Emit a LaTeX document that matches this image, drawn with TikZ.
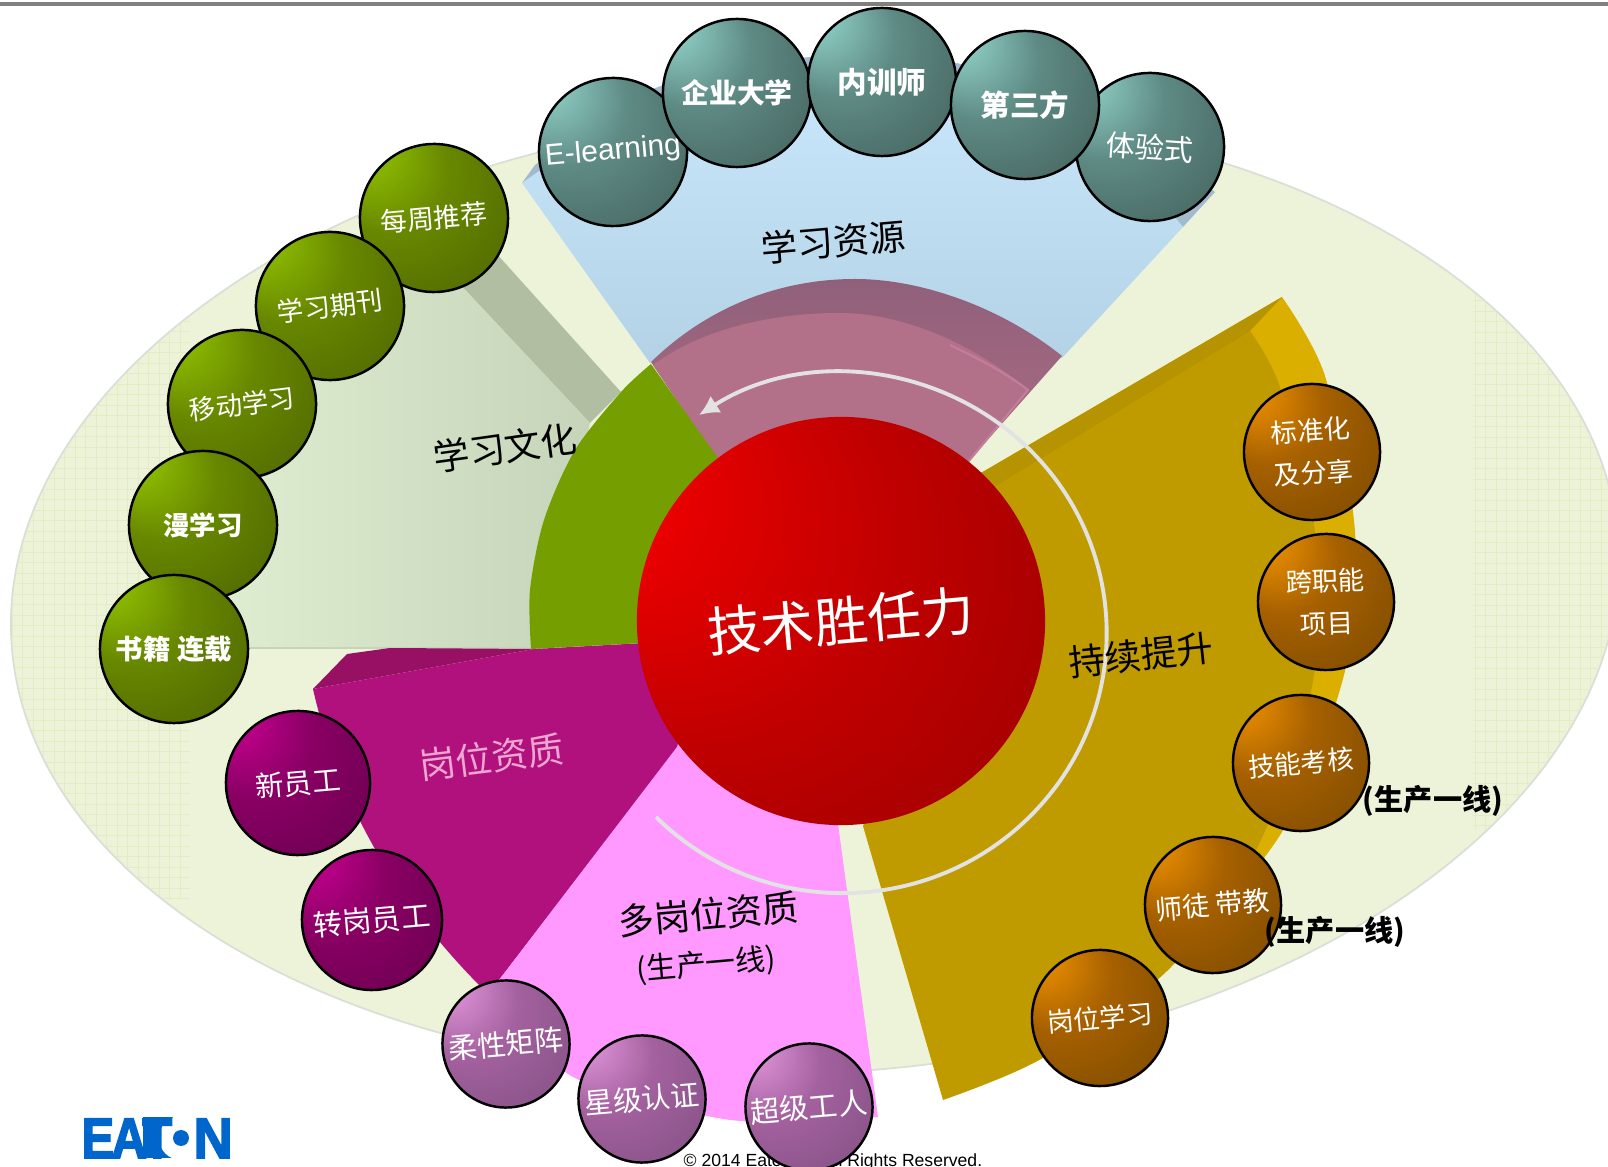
\documentclass[tikz,border=0pt]{standalone}
\usepackage{fontspec}
\usepackage{xcolor}
\usepackage{tikz}
\usetikzlibrary{arrows.meta}
\setmainfont{Liberation Sans}
\newfontfamily\cjk{Noto Sans CJK SC}
\newfontfamily\logofont[FakeBold=3]{Liberation Sans Bold}
\definecolor{barbg}{HTML}{808080}
\definecolor{plate}{HTML}{EDF3D9}
\definecolor{plategrid}{HTML}{E3ECC2}
\definecolor{plateedge}{HTML}{DADFD6}
\definecolor{bluehi}{HTML}{C9E8FD}
\definecolor{bluelo}{HTML}{B4D2E5}
\definecolor{blueback}{HTML}{A3B9CE}
\definecolor{mauvedark}{HTML}{90607A}
\definecolor{mauvemid}{HTML}{AC6C84}
\definecolor{mauve}{HTML}{B27188}
\definecolor{mauveedge}{HTML}{C27E9A}
\definecolor{sagehi}{HTML}{E0EFD2}
\definecolor{sagelo}{HTML}{C6D4B9}
\definecolor{sageback}{HTML}{B1BEA2}
\definecolor{olive}{HTML}{759E00}
\definecolor{plum}{HTML}{B0117C}
\definecolor{plumdark}{HTML}{971064}
\definecolor{orchid}{HTML}{FF99FF}
\definecolor{gold}{HTML}{C09B00}
\definecolor{golddark}{HTML}{B69300}
\definecolor{goldhi}{HTML}{DAAF00}
\definecolor{ring}{HTML}{E2E2E2}
\definecolor{eaton}{HTML}{0066CC}
\definecolor{plumtext}{HTML}{EDA6D2}
\definecolor{redhi}{HTML}{FF0000}
\definecolor{redmid}{HTML}{C00000}
\definecolor{redlo}{HTML}{8C0000}
\definecolor{tealhi}{HTML}{9CE3D8}
\definecolor{tealmid}{HTML}{5F8B85}
\definecolor{teallo}{HTML}{3A524E}
\definecolor{greenhi}{HTML}{9BD000}
\definecolor{greenmid}{HTML}{688800}
\definecolor{greenlo}{HTML}{445800}
\definecolor{plumhi}{HTML}{D6009C}
\definecolor{plummid}{HTML}{8A0064}
\definecolor{plumlo}{HTML}{5C0046}
\definecolor{violethi}{HTML}{F0A2EA}
\definecolor{violetmid}{HTML}{A4619F}
\definecolor{violetlo}{HTML}{744A78}
\definecolor{amberhi}{HTML}{FF9C00}
\definecolor{ambermid}{HTML}{A66000}
\definecolor{amberlo}{HTML}{6C4200}
\pgfdeclareradialshading{redshade}{\pgfpoint{-34bp}{18bp}}{color(0bp)=(redhi); color(24bp)=(redmid); color(50bp)=(redlo)}
\pgfdeclareradialshading{tealball}{\pgfpoint{-26bp}{26bp}}{color(0bp)=(tealhi); color(20bp)=(tealmid); color(50bp)=(teallo)}
\pgfdeclareradialshading{greenball}{\pgfpoint{-26bp}{26bp}}{color(0bp)=(greenhi); color(20bp)=(greenmid); color(50bp)=(greenlo)}
\pgfdeclareradialshading{plumball}{\pgfpoint{-26bp}{26bp}}{color(0bp)=(plumhi); color(20bp)=(plummid); color(50bp)=(plumlo)}
\pgfdeclareradialshading{violetball}{\pgfpoint{-26bp}{26bp}}{color(0bp)=(violethi); color(20bp)=(violetmid); color(50bp)=(violetlo)}
\pgfdeclareradialshading{amberball}{\pgfpoint{-26bp}{26bp}}{color(0bp)=(amberhi); color(20bp)=(ambermid); color(50bp)=(amberlo)}
\tikzset{
  ball/.style={circle, draw=black, line width=0.7pt, inner sep=0pt, shade, text=white, align=center},
  teal/.style={ball, shading=tealball, minimum size=14.8mm},
  grn/.style={ball, shading=greenball, minimum size=14.8mm},
  plm/.style={ball, shading=plumball, minimum size=14.4mm},
  vio/.style={ball, shading=violetball, minimum size=12.7mm},
  amb/.style={ball, shading=amberball, minimum size=13.6mm},
  cj/.style={font=\cjk\fontsize{#1}{12}\selectfont},
  cjb/.style={font=\cjk\bfseries\fontsize{#1}{12}\selectfont},
  lab/.style={text=black, cj=10.3},
  labb/.style={text=black, cjb=8.3},
  logo/.style={text=eaton, inner sep=0pt, font=\logofont\fontsize{16.2}{16.2}\selectfont}
}
\begin{document}
\begin{tikzpicture}[x=0.01cm,y=-0.01cm]
  \useasboundingbox (0,0) rectangle (1608,1167);
  \clip (0,0) rectangle (1608,1167);
  \fill[barbg] (0,2) rectangle (1608,6);
  \coordinate (C) at (815,593);
  \draw[plateedge, fill=plate, line width=0.5pt, rotate around={3.5:(C)}] (C) ellipse [x radius=805, y radius=480];
  % faint lattice on both ends of the plate
  \begin{scope}
    \clip[rotate around={3.5:(C)}] (C) ellipse [x radius=804, y radius=479];
    \foreach \x in {12,22.5,...,190} \draw[plategrid, line width=0.25pt] (\x,300) -- (\x,900);
    \foreach \x in {1475,1485.5,...,1608} \draw[plategrid, line width=0.25pt] (\x,290) -- (\x,830);
    \foreach \y in {300,310.5,...,900} \draw[plategrid, line width=0.25pt] (10,\y) -- (190,\y);
    \foreach \y in {290,300.5,...,830} \draw[plategrid, line width=0.25pt] (1473,\y) -- (1608,\y);
  \end{scope}
  % study resources
  \fill[blueback] (522,183) -- plot[smooth] coordinates {(535,165) (650,90) (810,57) (956,63) (1100,110) (1215,192)} -- (1183,227) -- cycle;
  \shade[top color=bluehi, bottom color=bluelo] (650,363) -- (522,183) -- plot[smooth] coordinates {(522,183) (650,105) (810,70) (956,76) (1090,130) (1183,227)} -- (1062,358) -- cycle;
  \shade[top color=mauvedark, bottom color=mauvemid] (651,362) .. controls (715,300) and (790,279) .. (855,279) .. controls (925,279) and (1005,310) .. (1062,356) -- (968,462) -- (716,458) -- cycle;
  \fill[mauve] (653,365) .. controls (700,330) and (770,313) .. (839,313) .. controls (905,313) and (975,345) .. (1028,390) -- (968,462) -- (716,458) -- cycle;
  \draw[mauveedge, line width=0.6pt] (950,345) .. controls (975,357) and (1005,372) .. (1028,390) -- (968,462);
  % study culture
  \fill[sageback] (460,213) -- (621,392) -- (590,423) -- (440,263) -- cycle;
  \shade[left color=sagehi, right color=sagelo] (440,263) -- (590,423) -- (545,648) -- (200,648) -- (210,530) -- (250,420) -- (330,320) -- cycle;
  \draw[sagelo, line width=0.3pt] (230,648) -- (545,648);
  % job qualification
  \fill[plumdark] (313,689) -- (347,654) -- (390,648) -- (534,649) -- cycle;
  \fill[plum] (313,689) -- (534,649) -- (700,640) -- (677,748) -- (499,980) -- (479,985) .. controls (420,925) and (345,830) .. (313,689) -- cycle;
  \fill[orchid] (690,730) -- (499,980) -- plot[smooth] coordinates {(499,980) (568,1074) (712,1117) (800,1122) (878,1117)} -- (832,780) -- cycle;
  % continuous improvement
  \fill[goldhi] (1282,297) -- plot[smooth] coordinates {(1282,297) (1325,376) (1355,532) (1345,671) (1282,832) (1167,971)} -- (981,473) -- cycle;
  \fill[gold] (981,473) -- (1250,331) -- plot[smooth] coordinates {(1250,331) (1280,387) (1315,532) (1312,687) (1257,848) (1167,971) (1041,1059) (943,1100)} -- (863,826) -- cycle;
  \fill[golddark] (981,473) -- (1282,297) -- (1250,331) -- (996,486) -- cycle;
  \fill[olive] plot[smooth] coordinates {(651,364) (621,392) (575,450) (544,520) (530,590) (531,649)} -- (700,640) -- (718,458) -- cycle;
  \coordinate (R) at (843,633);
  \draw[ring, line width=1.1pt, -{Latex[length=2mm,width=2mm]}] (656,817) arc [start angle=-225, end angle=-483, x radius=264, y radius=260];
  \node[circle, shade, shading=redshade, minimum size=40.8mm, inner sep=0pt, text=white, cj=15.2, rotate=5] (core) at (841,621) {技术胜任力};
  \node[anchor=base west, inner sep=0pt, font=\fontsize{5.0}{6}\selectfont] (rights) at (683,1166) {© 2014 Eaton.\hspace{2mm} All Rights Reserved.};
  \node[teal, rotate=5, font=\fontsize{8.5}{10}\selectfont] (elearn) at (613,152) {E-learning};
  \node[teal, rotate=-4, cj=8.3] (tiyan) at (1150,147) {体验式};
  \node[teal, cjb=7.9] (daxue) at (737,93) {企业大学};
  \node[teal, cjb=8.4] (neixun) at (882,82) {内训师};
  \node[teal, cjb=8.4] (disan) at (1025,105) {第三方};
  \node[grn, rotate=5, cj=7.6] (meizhou) at (434,218) {每周推荐};
  \node[grn, rotate=7, cj=7.5] (qikan) at (330,306) {学习期刊};
  \node[grn, rotate=7, cj=7.5] (yidong) at (242,404) {移动学习};
  \node[grn, cjb=7.5] (manxue) at (203,525) {漫学习};
  \node[grn, cjb=7.8] (shuji) at (174,649) {书籍 连载};
  \node[plm, rotate=5, cj=8.1] (xinyuan) at (298,783) {新员工};
  \node[plm, minimum size=14mm, rotate=5, cj=8.3] (zhuangang) at (372,920) {转岗员工};
  \node[vio, rotate=5, cj=8.2] (rouxing) at (506,1044) {柔性矩阵};
  \node[vio, rotate=5, cj=8.2] (xingji) at (642,1099) {星级认证};
  \node[vio, rotate=5, cj=8.3] (chaoji) at (809,1107) {超级工人};
  \node[amb, rotate=4, cj=7.5] (biaozhun) at (1312,452) {标准化\\及分享};
  \node[amb, rotate=2, cj=7.5] (kuazhi) at (1326,602) {跨职能\\项目};
  \node[amb, rotate=5, cj=7.5] (jineng) at (1301,763) {技能考核};
  \node[amb, rotate=5, cj=7.7] (shitu) at (1213,905) {师徒 带教};
  \node[amb, rotate=5, cj=7.5] (gangwei) at (1100,1018) {岗位学习};
  \node[lab, rotate=5] (ziyuan) at (833,242) {学习资源};
  \node[lab, rotate=8] (wenhua) at (505,448) {学习文化};
  \node[lab, rotate=7, text=plumtext] (zizhi) at (492,757) {岗位资质};
  \node[lab, rotate=5] (duogang) at (708,914) {多岗位资质};
  \node[lab, rotate=5, cj=8.5] (xian) at (706,965) {(生产一线)};
  \node[lab, rotate=6] (tisheng) at (1141,655) {持续提升};
  \node[labb] (xian2) at (1433,801) {(生产一线)};
  \node[labb] (xian3) at (1335,932) {(生产一线)};
  % logo
  \fill[eaton] (143,1117) rectangle (173,1158);
  \fill[white] (181,1138) circle (22);
  \fill[eaton] (181,1138) circle (8);
  \node[logo, anchor=base west, xscale=0.86] (logoe) at (81,1158) {E\kern-.06em A\kern-.09em T};
  \node[logo, anchor=base west, xscale=0.95] (logon) at (193,1158) {N};
\end{tikzpicture}
\end{document}
